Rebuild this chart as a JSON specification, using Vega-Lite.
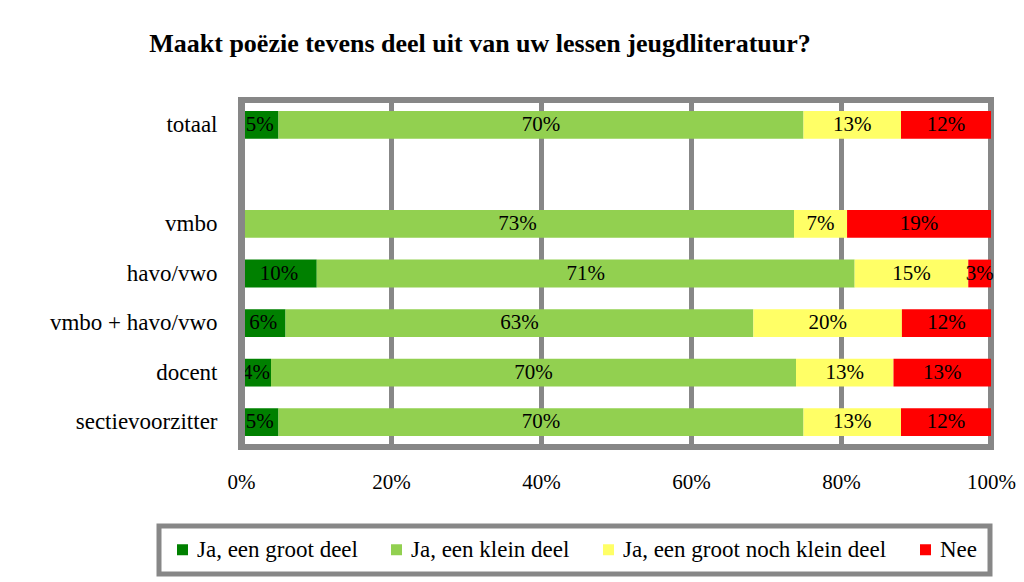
{
  "$schema": "https://vega.github.io/schema/vega-lite/v6.json",
  "width": 750,
  "height": 347,
  "autosize": {"type": "none"},
  "padding": {"left": 241, "top": 100, "right": 33, "bottom": 135},
  "background": "white",
  "config": {
    "font": "Liberation Serif",
    "view": {"stroke": "#878787", "strokeWidth": 6, "fill": "white"},
    "title": {"font": "Liberation Serif"},
    "legend": {"labelFont": "Liberation Serif"}
  },
  "title": {"text": "Maakt poëzie tevens deel uit van uw lessen jeugdliteratuur?", "font": "Liberation Serif", "fontSize": 26, "fontWeight": "bold", "color": "black", "anchor": "middle", "dx": -136, "offset": 43},
  "data": {"values": [
    {"groep": "totaal", "antwoord": "Ja, een groot deel", "code": 1, "value": 0.05},
    {"groep": "totaal", "antwoord": "Ja, een klein deel", "code": 2, "value": 0.70},
    {"groep": "totaal", "antwoord": "Ja, een groot noch klein deel", "code": 3, "value": 0.13},
    {"groep": "totaal", "antwoord": "Nee", "code": 4, "value": 0.12},
    {"groep": "vmbo", "antwoord": "Ja, een klein deel", "code": 2, "value": 0.73},
    {"groep": "vmbo", "antwoord": "Ja, een groot noch klein deel", "code": 3, "value": 0.07},
    {"groep": "vmbo", "antwoord": "Nee", "code": 4, "value": 0.19},
    {"groep": "havo/vwo", "antwoord": "Ja, een groot deel", "code": 1, "value": 0.10},
    {"groep": "havo/vwo", "antwoord": "Ja, een klein deel", "code": 2, "value": 0.71},
    {"groep": "havo/vwo", "antwoord": "Ja, een groot noch klein deel", "code": 3, "value": 0.15},
    {"groep": "havo/vwo", "antwoord": "Nee", "code": 4, "value": 0.03},
    {"groep": "vmbo + havo/vwo", "antwoord": "Ja, een groot deel", "code": 1, "value": 0.06},
    {"groep": "vmbo + havo/vwo", "antwoord": "Ja, een klein deel", "code": 2, "value": 0.63},
    {"groep": "vmbo + havo/vwo", "antwoord": "Ja, een groot noch klein deel", "code": 3, "value": 0.20},
    {"groep": "vmbo + havo/vwo", "antwoord": "Nee", "code": 4, "value": 0.12},
    {"groep": "docent", "antwoord": "Ja, een groot deel", "code": 1, "value": 0.04},
    {"groep": "docent", "antwoord": "Ja, een klein deel", "code": 2, "value": 0.70},
    {"groep": "docent", "antwoord": "Ja, een groot noch klein deel", "code": 3, "value": 0.13},
    {"groep": "docent", "antwoord": "Nee", "code": 4, "value": 0.13},
    {"groep": "sectievoorzitter", "antwoord": "Ja, een groot deel", "code": 1, "value": 0.05},
    {"groep": "sectievoorzitter", "antwoord": "Ja, een klein deel", "code": 2, "value": 0.70},
    {"groep": "sectievoorzitter", "antwoord": "Ja, een groot noch klein deel", "code": 3, "value": 0.13},
    {"groep": "sectievoorzitter", "antwoord": "Nee", "code": 4, "value": 0.12}
  ]},
  "encoding": {
    "y": {"field": "groep", "type": "nominal",
      "scale": {"domain": ["totaal", " ", "vmbo", "havo/vwo", "vmbo + havo/vwo", "docent", "sectievoorzitter"], "paddingInner": 0.44, "paddingOuter": 0.22},
      "axis": {"title": null, "ticks": false, "domain": true, "domainColor": "#878787", "domainWidth": 7, "zindex": 1, "labelFont": "Liberation Serif", "labelFontSize": 23, "labelColor": "black", "labelPadding": 24, "labelLimit": 300}},
    "order": {"field": "code", "type": "quantitative"}
  },
  "layer": [
    {
      "mark": {"type": "bar"},
      "encoding": {
        "x": {"field": "value", "type": "quantitative", "stack": "normalize", "scale": {"domain": [0, 1]},
          "axis": {"title": null, "format": ".0%", "values": [0, 0.2, 0.4, 0.6, 0.8, 1], "grid": true, "gridColor": "#878787", "gridWidth": 5, "gridOpacity": 1, "ticks": false, "domain": false, "labelPadding": 24, "labelFont": "Liberation Serif", "labelFontSize": 21, "labelColor": "black", "labelFlush": false}},
        "color": {"field": "antwoord", "type": "nominal",
          "scale": {"domain": ["Ja, een groot deel", "Ja, een klein deel", "Ja, een groot noch klein deel", "Nee"], "range": ["#008000", "#92D050", "#FFFF66", "#FF0000"]},
          "legend": {"title": null, "orient": "none", "direction": "horizontal", "legendX": -82, "legendY": 426, "symbolType": "square", "symbolSize": 121, "symbolStrokeWidth": 0, "labelFont": "Liberation Serif", "labelFontSize": 23, "labelColor": "black", "columnPadding": 27, "labelOffset": 3, "padding": 12, "strokeColor": "#878787", "fillColor": "white", "labelLimit": 400,
            "encode": {"legend": {"update": {"strokeWidth": {"value": 5}}}, "labels": {"update": {"font": {"value": "Liberation Serif"}, "fontSize": {"value": 23}}}}}}
      }
    },
    {
      "mark": {"type": "text", "font": "Liberation Serif", "fontSize": 21, "color": "black", "baseline": "middle", "align": "center"},
      "encoding": {
        "x": {"field": "value", "type": "quantitative", "stack": "normalize", "bandPosition": 0.5},
        "detail": {"field": "antwoord", "type": "nominal"},
        "text": {"field": "value", "type": "quantitative", "format": ".0%"}
      }
    }
  ]
}
